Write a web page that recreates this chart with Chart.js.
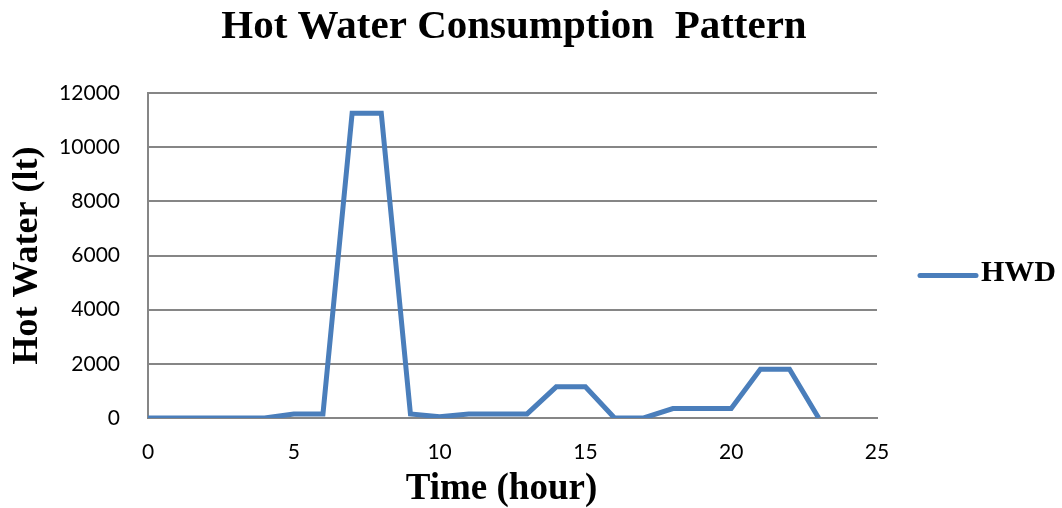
<!DOCTYPE html>
<html>
<head>
<meta charset="utf-8">
<script src="https://cdn.jsdelivr.net/npm/chart.js@4"></script>
<style>
  html, body { margin: 0; padding: 0; background: #fff; }
  #wrap { width: 1062px; height: 508px; }
</style>
</head>
<body>
<div id="wrap"><canvas id="hwd-chart" width="1062" height="508"></canvas></div>
<script>
// hourly hot water demand (litres)
const hours = [0, 1, 2, 3, 4, 5, 6, 7, 8, 9, 10, 11, 12, 13, 14, 15, 16, 17, 18, 19, 20, 21, 22, 23];
const hwd = [0, 0, 0, 0, 0, 150, 150, 11250, 11250, 150, 50, 150, 150, 150, 1150, 1150, 0, 0, 350, 350, 350, 1800, 1800, 0];
const seriesName = 'HWD';
const chartTitle = 'Hot Water Consumption  Pattern';
const xTitle = 'Time (hour)';
const yTitle = 'Hot Water (lt)';

const serif = '"Liberation Serif", "Times New Roman", serif';
const tickFont = 'Lato, "Open Sans", sans-serif';
const gridColor = '#868686';
const lineColor = '#4A7EBB';

let points = hours.map((h, i) => ({ x: h, y: hwd[i] }));

// title, x title and legend drawn by hand so they sit where the original ones do
const extras = {
    id: 'extras',
    afterDraw(chart) {
        const c = chart.ctx;
        const area = chart.chartArea;
        const ds = chart.data.datasets[0];
        c.save();
        c.fillStyle = '#000';
        c.textAlign = 'center';
        c.textBaseline = 'alphabetic';
        c.font = 'bold 41px ' + serif;
        c.fillText(chartTitle, 514, 38);
        c.font = 'bold 37px ' + serif;
        c.fillText(xTitle, (area.left + area.right) / 2 - 11, 499);

        // legend
        const y = (area.top + area.bottom) / 2 + 20;
        const x0 = area.right + 43;
        c.strokeStyle = ds.borderColor;
        c.lineWidth = 5;
        c.lineCap = 'round';
        c.beginPath();
        c.moveTo(x0, y);
        c.lineTo(x0 + 56, y);
        c.stroke();
        c.textAlign = 'left';
        c.textBaseline = 'middle';
        c.font = 'bold 30px ' + serif;
        c.fillText(ds.label, x0 + 61, y - 2);
        c.restore();
    }
};

const ctx = document.getElementById('hwd-chart').getContext('2d');

const chart = new Chart(ctx, {
    type: 'line',
    data: {
        datasets: [{
            label: seriesName,
            data: points,
            borderColor: lineColor,
            backgroundColor: lineColor,
            borderWidth: 5,
            pointRadius: 0,
            tension: 0
        }]
    },
    options: {
        responsive: false,
        animation: false,
        layout: {
            padding: { left: 0, right: 185, top: 93, bottom: 0 }
        },
        scales: {
            x: {
                type: 'linear',
                min: 0,
                max: 25,
                afterFit: s => { s.height = 90; },
                ticks: {
                    stepSize: 5,
                    color: '#000',
                    font: { family: tickFont, size: 21 },
                    padding: 22
                },
                grid: { display: false, drawTicks: false },
                border: { color: gridColor, width: 2 }
            },
            y: {
                min: 0,
                max: 12000,
                afterFit: s => { s.width = 148; },
                ticks: {
                    stepSize: 2000,
                    color: '#000',
                    font: { family: tickFont, size: 21 },
                    padding: 28,
                    callback: v => String(v)
                },
                grid: { color: gridColor, lineWidth: 2, drawTicks: false },
                border: { color: gridColor, width: 2 },
                title: {
                    display: true,
                    text: yTitle,
                    color: '#000',
                    font: { family: serif, size: 36, weight: 'bold' },
                    padding: { top: 6, bottom: 0 }
                }
            }
        },
        plugins: {
            title: { display: false },
            legend: { display: false },
            tooltip: { enabled: false }
        }
    },
    plugins: [extras]
});
</script>
</body>
</html>
